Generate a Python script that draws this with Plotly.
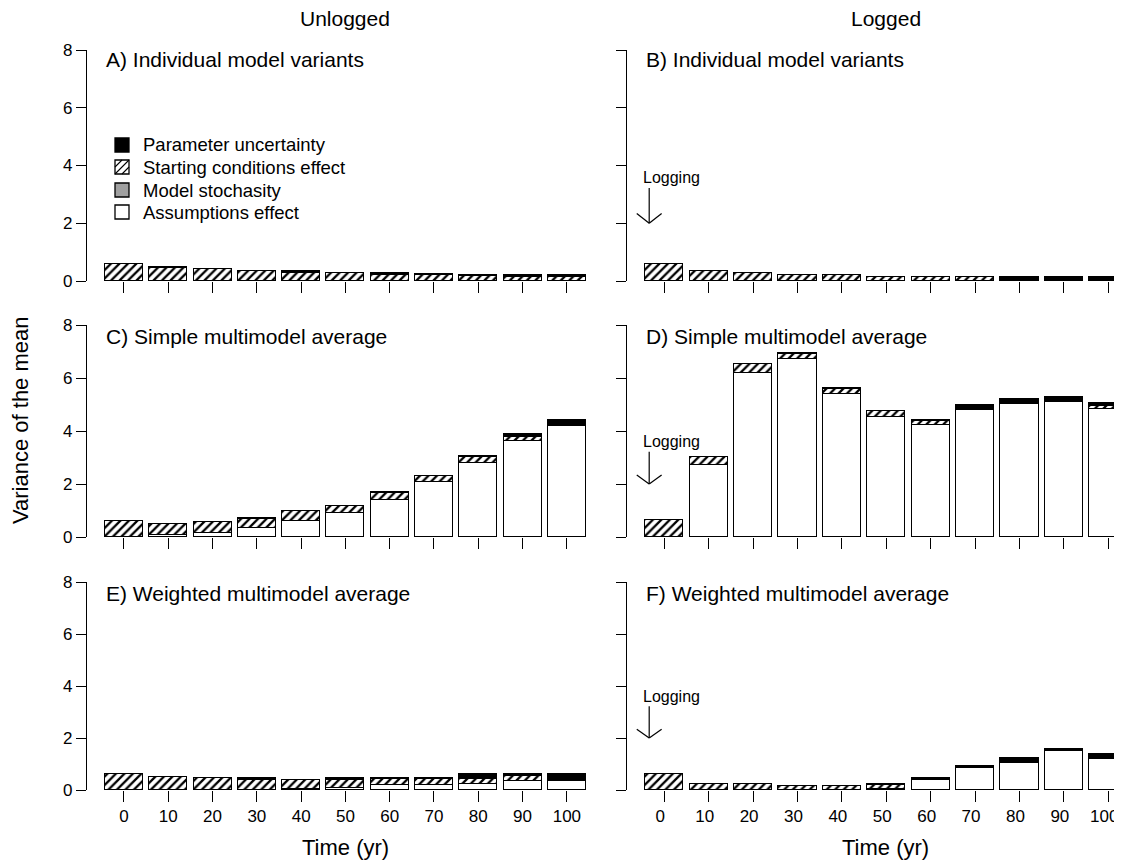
import plotly.graph_objects as go

# The page body has an 8px default margin, so the figure is sized to fit the
# 1122x861 window and all positions below are given in window pixels.
WIN_W, WIN_H = 1122, 861
OFF = 8
W, H = WIN_W - OFF, WIN_H - OFF
FONT = "Liberation Sans, Arial, Helvetica, sans-serif"

years = [0, 10, 20, 30, 40, 50, 60, 70, 80, 90, 100]
tick_labels = ["0", "10", "20", "30", "40", "50", "60", "70", "80", "90", "100"]
idx = list(range(len(years)))

series_names = ["Assumptions effect", "Model stochasity", "Starting conditions effect", "Parameter uncertainty"]

# Panel A: Unlogged, individual model variants
a_assump = [0, 0, 0, 0, 0, 0, 0, 0, 0, 0, 0]
a_stoch = [0, 0, 0, 0, 0, 0, 0, 0, 0, 0, 0]
a_start = [0.60, 0.46, 0.40, 0.33, 0.28, 0.27, 0.22, 0.21, 0.19, 0.14, 0.14]
a_param = [0.00, 0.01, 0.01, 0.02, 0.05, 0.02, 0.06, 0.02, 0.03, 0.07, 0.06]

# Panel B: Logged, individual model variants
b_assump = [0, 0, 0, 0, 0, 0, 0, 0, 0, 0, 0]
b_stoch = [0, 0, 0, 0, 0, 0, 0, 0, 0, 0, 0]
b_start = [0.60, 0.33, 0.28, 0.21, 0.20, 0.14, 0.14, 0.13, 0.03, 0.03, 0.03]
b_param = [0.00, 0.00, 0.00, 0.00, 0.01, 0.00, 0.00, 0.01, 0.12, 0.12, 0.12]

# Panel C: Unlogged, simple multimodel average
c_assump = [0.00, 0.07, 0.14, 0.35, 0.62, 0.90, 1.40, 2.07, 2.78, 3.62, 4.18]
c_stoch = [0, 0, 0, 0, 0, 0, 0, 0, 0, 0, 0]
c_start = [0.62, 0.42, 0.41, 0.34, 0.35, 0.27, 0.26, 0.22, 0.23, 0.17, 0.04]
c_param = [0.00, 0.00, 0.00, 0.01, 0.01, 0.01, 0.03, 0.03, 0.03, 0.08, 0.20]

# Panel D: Logged, simple multimodel average
d_assump = [0.00, 2.70, 6.20, 6.70, 5.38, 4.52, 4.24, 4.80, 5.02, 5.08, 4.82]
d_stoch = [0, 0, 0, 0, 0, 0, 0, 0, 0, 0, 0]
d_start = [0.64, 0.32, 0.32, 0.22, 0.22, 0.24, 0.15, 0.02, 0.02, 0.02, 0.14]
d_param = [0.00, 0.01, 0.01, 0.01, 0.01, 0.01, 0.03, 0.17, 0.17, 0.18, 0.10]

# Panel E: Unlogged, weighted multimodel average
e_assump = [0.00, 0.00, 0.00, 0.00, 0.05, 0.08, 0.18, 0.20, 0.25, 0.33, 0.35]
e_stoch = [0, 0, 0, 0, 0, 0, 0, 0, 0, 0, 0]
e_start = [0.60, 0.51, 0.45, 0.40, 0.33, 0.32, 0.24, 0.23, 0.18, 0.22, 0.05]
e_param = [0.00, 0.00, 0.00, 0.05, 0.01, 0.05, 0.03, 0.02, 0.17, 0.05, 0.20]

# Panel F: Logged, weighted multimodel average
f_assump = [0.00, 0.00, 0.00, 0.00, 0.00, 0.02, 0.38, 0.85, 1.05, 1.50, 1.20]
f_stoch = [0, 0, 0, 0, 0, 0, 0, 0, 0, 0, 0]
f_start = [0.60, 0.22, 0.22, 0.14, 0.14, 0.19, 0.00, 0.00, 0.00, 0.00, 0.00]
f_param = [0.00, 0.01, 0.01, 0.01, 0.01, 0.02, 0.07, 0.09, 0.17, 0.08, 0.17]

panel_titles = ["A) Individual model variants", "B) Individual model variants",
                "C) Simple multimodel average", "D) Simple multimodel average",
                "E) Weighted multimodel average", "F) Weighted multimodel average"]

panels = [
    (a_assump, a_stoch, a_start, a_param),
    (b_assump, b_stoch, b_start, b_param),
    (c_assump, c_stoch, c_start, c_param),
    (d_assump, d_stoch, d_start, d_param),
    (e_assump, e_stoch, e_start, e_param),
    (f_assump, f_stoch, f_start, f_param),
]


def px(x):
    return (x - OFF) / W


def py(y):
    return 1 - (y - OFF) / H


# layout geometry (window pixels)
col_dom = [[px(87), px(589)], [px(627), 1.0]]
col_range = [[-0.835, 10.5], [-0.84, 10.31]]
row_pix = [(50, 281), (325, 537), (582, 790)]  # (y of 8, y of 0)

fig = go.Figure()

LW = 1.4
styles = [
    dict(marker=dict(color="white", line=dict(color="black", width=LW))),
    dict(marker=dict(color="#a0a0a0", line=dict(color="black", width=LW))),
    dict(marker=dict(color="white", line=dict(color="black", width=LW),
                     pattern=dict(shape="/", fgcolor="black", bgcolor="white", fgopacity=1,
                                  size=6, solidity=0.38))),
    dict(marker=dict(color="black", line=dict(color="black", width=LW))),
]

layout_axes = {}
for p, comps in enumerate(panels):
    r, c = divmod(p, 2)
    n = p + 1
    xa = "x" if n == 1 else f"x{n}"
    ya = "y" if n == 1 else f"y{n}"
    for k, vals in enumerate(comps):
        fig.add_trace(go.Bar(x=idx, y=vals, xaxis=xa, yaxis=ya, width=0.86,
                             name=series_names[k], showlegend=False, **styles[k]))
    top, bot = row_pix[r]
    bottom_row = (r == 2)
    layout_axes["xaxis" if n == 1 else f"xaxis{n}"] = dict(
        domain=col_dom[c], range=col_range[c], anchor=ya,
        tickvals=idx, ticktext=tick_labels, showticklabels=bottom_row,
        ticklabeloverflow="allow", ticklabelshift=(-4 if c == 1 else 0),
        ticks="outside", ticklen=11, tickwidth=1.4, tickcolor="black",
        showline=False, showgrid=False, zeroline=False,
        tickfont=dict(size=17, color="black", family=FONT), fixedrange=True)
    layout_axes["yaxis" if n == 1 else f"yaxis{n}"] = dict(
        domain=[py(bot), py(top)], range=[0, 8], anchor=xa,
        tickvals=[0, 2, 4, 6, 8], showticklabels=(c == 0),
        ticks="outside", ticklen=10, tickwidth=1.4, tickcolor="black",
        showline=True, linecolor="black", linewidth=1.4,
        showgrid=False, zeroline=False,
        tickfont=dict(size=17, color="black", family=FONT), fixedrange=True)

annotations = []
title_y = [60, 336, 593]
for p, t in enumerate(panel_titles):
    r, c = divmod(p, 2)
    annotations.append(dict(text=t, xref="paper", yref="paper",
                            x=px(104 if c == 0 else 644), y=py(title_y[r]),
                            xanchor="left", yanchor="middle", showarrow=False,
                            font=dict(size=21, color="black", family=FONT)))

annotations += [
    dict(text="Unlogged", xref="paper", yref="paper", x=px(345), y=py(18),
         xanchor="center", yanchor="middle", showarrow=False,
         font=dict(size=21, color="black", family=FONT)),
    dict(text="Logged", xref="paper", yref="paper", x=px(886), y=py(18),
         xanchor="center", yanchor="middle", showarrow=False,
         font=dict(size=21, color="black", family=FONT)),
    dict(text="Variance of the mean", xref="paper", yref="paper", x=px(20), y=py(420),
         xanchor="center", yanchor="middle", textangle=-90, showarrow=False,
         font=dict(size=22, color="black", family=FONT)),
    dict(text="Time (yr)", xref="paper", yref="paper", x=px(345), y=py(847),
         xanchor="center", yanchor="middle", showarrow=False,
         font=dict(size=22, color="black", family=FONT)),
    dict(text="Time (yr)", xref="paper", yref="paper", x=px(886), y=py(847),
         xanchor="center", yanchor="middle", showarrow=False,
         font=dict(size=22, color="black", family=FONT)),
]

shapes = []
# Logging markers on the logged panels
for n in (2, 4, 6):
    xr, yr = f"x{n}", f"y{n}"
    ax = -0.34
    annotations.append(dict(text="Logging", xref=xr, yref=yr, x=-0.53, y=3.6,
                            xanchor="left", yanchor="middle", showarrow=False,
                            font=dict(size=16, color="black", family=FONT)))
    ln = dict(color="black", width=1.2)
    shapes.append(dict(type="line", xref=xr, yref=yr, x0=ax, x1=ax, y0=3.22, y1=2.0, line=ln))
    shapes.append(dict(type="line", xref=xr, yref=yr, x0=ax - 0.28, x1=ax, y0=2.34, y1=2.0, line=ln))
    shapes.append(dict(type="line", xref=xr, yref=yr, x0=ax + 0.28, x1=ax, y0=2.34, y1=2.0, line=ln))

# Legend in panel A (drawn manually)
leg_y = [145, 167, 190, 212]
leg_labels = ["Parameter uncertainty", "Starting conditions effect", "Model stochasity", "Assumptions effect"]
leg_fill = ["black", "white", "#a0a0a0", "white"]
S = 7
for yy, lab, fc in zip(leg_y, leg_labels, leg_fill):
    shapes.append(dict(type="rect", xref="paper", yref="paper",
                       x0=px(115), x1=px(115 + 2 * S), y0=py(yy + S), y1=py(yy - S),
                       fillcolor=fc, line=dict(color="black", width=1.3)))
    annotations.append(dict(text=lab, xref="paper", yref="paper", x=px(141), y=py(yy),
                            xanchor="left", yanchor="middle", showarrow=False,
                            font=dict(size=18.5, color="black", family=FONT)))
# hatch strokes inside the "Starting conditions effect" legend square
yy = leg_y[1]
for (x0, y0, x1, y1) in [(115, yy + S, 115 + 2 * S, yy - S), (115, yy, 115 + S, yy - S),
                         (115 + S, yy + S, 115 + 2 * S, yy)]:
    shapes.append(dict(type="line", xref="paper", yref="paper",
                       x0=px(x0), y0=py(y0), x1=px(x1), y1=py(y1),
                       line=dict(color="black", width=1.1)))

fig.update_layout(
    width=W, height=H, barmode="stack",
    margin=dict(l=0, r=0, t=0, b=0, autoexpand=False),
    paper_bgcolor="white", plot_bgcolor="white",
    showlegend=False, bargap=0,
    font=dict(family=FONT, color="black"),
    annotations=annotations, shapes=shapes,
    **layout_axes,
)

fig.write_html("out.html")
